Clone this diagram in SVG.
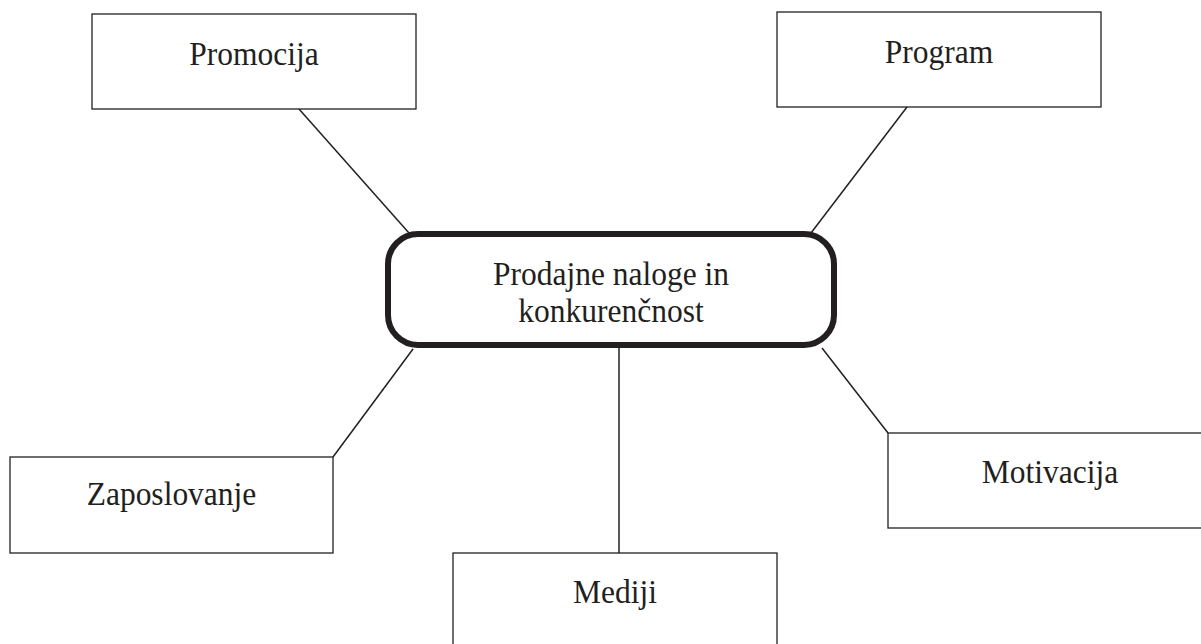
<svg xmlns="http://www.w3.org/2000/svg" width="1201" height="644" viewBox="0 0 1201 644">
  <style>
    .box { fill: #ffffff; stroke: #231f20; stroke-width: 1.3; }
    .hub { fill: #ffffff; stroke: #231f20; stroke-width: 6; }
    .lbl { font-family: "Liberation Serif", "Times New Roman", serif; font-size: 31.5px; fill: #231f20; text-anchor: middle; }
    .link { stroke: #231f20; stroke-width: 1.5; fill: none; }
  </style>
  <rect width="1201" height="644" fill="#ffffff"/>

  <!-- connectors from the central topic to each branch -->
  <g id="connectors">
    <line class="link" x1="299" y1="109" x2="409" y2="233"/>
    <line class="link" x1="907" y1="107" x2="811" y2="233"/>
    <line class="link" x1="333" y1="457" x2="413" y2="349"/>
    <line class="link" x1="888" y1="433" x2="822" y2="348"/>
    <line class="link" x1="619" y1="348" x2="619" y2="553"/>
  </g>

  <!-- labels are set slightly tall: translate to the baseline, then stretch vertically -->
  <g id="center">
    <rect class="hub" x="388" y="234" width="446" height="111" rx="30" ry="30"/>
    <text class="lbl" transform="translate(611,285) scale(1,1.07)">Prodajne naloge in</text>
    <text class="lbl" transform="translate(611,322) scale(1,1.07)">konkurenčnost</text>
  </g>

  <g id="promocija">
    <rect class="box" x="92" y="14" width="324" height="95"/>
    <text class="lbl" transform="translate(254,65) scale(1,1.07)">Promocija</text>
  </g>

  <g id="program">
    <rect class="box" x="777" y="12" width="324" height="95"/>
    <text class="lbl" transform="translate(939,63) scale(1,1.07)">Program</text>
  </g>

  <g id="zaposlovanje">
    <rect class="box" x="10" y="457" width="323" height="96"/>
    <text class="lbl" transform="translate(171.5,505) scale(1,1.07)">Zaposlovanje</text>
  </g>

  <g id="mediji">
    <rect class="box" x="453" y="553" width="324" height="100"/>
    <text class="lbl" transform="translate(615,603) scale(1,1.07)">Mediji</text>
  </g>

  <g id="motivacija">
    <rect class="box" x="888" y="433" width="324" height="95"/>
    <text class="lbl" transform="translate(1050,483) scale(1,1.07)">Motivacija</text>
  </g>
</svg>
